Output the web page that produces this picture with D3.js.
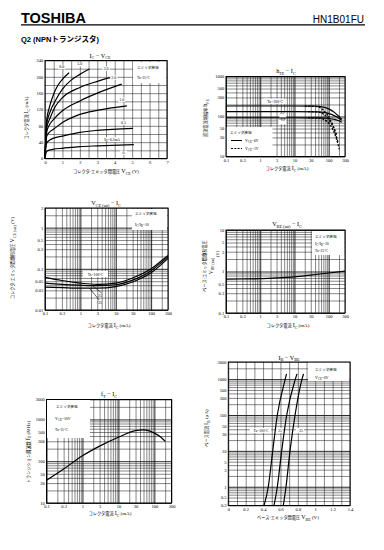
<!DOCTYPE html>
<html><head><meta charset="utf-8">
<script src="https://cdn.jsdelivr.net/npm/d3@7"></script>
<style>body{margin:0;background:#fff}svg{display:block}</style>
</head><body><script>
// ---------------- DATA ----------------
const logXTicks = [0.1, 0.3, 1, 3, 10, 30, 100, 300];

// IC - VCE  (VCE V, IC mA)
const vceTicks = [0, 1, 2, 3, 4, 5, 6, 7];
const icTicks = [0, 40, 80, 120, 160, 200, 240];
const ibNames = ["8.0", "5.0", "3.0", "2.0", "1.0", "0.5", "IB=0.2mA", "0"];
const ib80 = [[0,0],[0.05,60],[0.1,95],[0.25,125],[0.5,158],[0.75,180],[1,194],[1.38,210]];
const ib50 = [[0,0],[0.05,55],[0.1,85],[0.3,115],[0.6,142],[1,170],[1.5,192],[2,206],[2.55,219]];
const ib30 = [[0,0],[0.05,50],[0.1,75],[0.3,100],[0.6,128],[1,149],[2,174],[3,189],[3.74,198]];
const ib20 = [[0,0],[0.05,45],[0.1,65],[0.25,82],[0.5,96],[1,117],[2,141],[3,160],[4.4,182]];
const ib10 = [[0,0],[0.05,40],[0.1,55],[0.25,64],[0.5,72],[1,88],[2,108],[3,118],[4.7,129]];
const ib05 = [[0,0],[0.05,28],[0.1,38],[0.3,46],[0.5,50],[1,55],[2,64],[3,69],[5.05,74]];
const ib02 = [[0,0],[0.05,12],[0.1,18],[0.3,21],[0.5,23],[1,25],[2,29],[3,31],[5.1,34]];
const ibLabelPos = [[0.96,221],[2.0,228],[3.5,217],[3.95,195],[4.4,141],[4.5,85],[3.85,43],[4.5,11]];

// hFE - IC
const hfeTicks = [10, 30, 50, 100, 300, 500, 1000];
const hfe100 = [[0.1,183],[10,183],[40,182],[70,172],[100,155],[150,125],[200,100],[240,85]];
const hfe25 = [[0.1,132],[10,132],[50,131],[80,125],[120,113],[170,98],[240,80]];
const hfeM25 = [[0.1,93],[10,93],[60,92],[100,89],[150,84],[200,78],[240,72]];
const hfe100d = [[20,183],[40,180],[60,160],[85,120],[110,85],[140,55],[170,35]];
const hfe25d = [[25,132],[45,130],[70,115],[100,85],[130,58],[160,36],[190,22]];
const hfeM25d = [[25,93],[50,91],[80,80],[110,62],[140,42],[170,27],[205,15]];

// VCE(sat) - IC
const vcesatTicks = [0.01, 0.03, 0.05, 0.1, 0.3, 0.5, 1, 3];
const vcesat100 = [[0.1,0.062],[0.3,0.052],[1,0.045],[3,0.042],[10,0.045],[30,0.06],[100,0.1],[200,0.16],[300,0.21]];
const vcesat25 = [[0.1,0.045],[0.3,0.042],[1,0.040],[3,0.039],[10,0.041],[30,0.053],[100,0.09],[200,0.145],[300,0.195]];
const vcesatM25 = [[0.1,0.036],[0.3,0.035],[1,0.034],[3,0.034],[10,0.037],[30,0.048],[100,0.08],[200,0.13],[300,0.18]];

// VBE(sat) - IC
const vbesatTicks = [0.1, 0.3, 0.5, 1, 3, 5, 10];
const vbesat25 = [[0.1,0.65],[0.3,0.66],[1,0.67],[3,0.7],[10,0.74],[30,0.82],[100,0.92],[300,1.02]];

// fT - IC
const ftTicks = [10, 30, 50, 100, 300, 500, 1000, 3000];
const ft25 = [[0.1,35],[0.3,65],[1,135],[3,230],[10,375],[30,540],[50,560],[100,470],[150,380],[200,300]];

// IB - VBE
const vbeTicks = [0, 0.2, 0.4, 0.6, 0.8, 1.0, 1.2, 1.4];
const ibTicks = [0.3, 0.5, 1, 3, 5, 10, 30, 50, 100, 300, 500, 1000, 3000];
const ibv100 = [[0.411,0.3],[0.46,1],[0.511,10],[0.564,100],[0.652,940],[0.67,1400]];
const ibv25 = [[0.526,0.3],[0.564,1],[0.614,10],[0.672,100],[0.768,940],[0.79,1400]];
const ibvM25 = [[0.633,0.3],[0.664,1],[0.71,10],[0.768,100],[0.845,940],[0.865,1400]];

// ---------------- DRAW ----------------
const SER = "'Liberation Serif','DejaVu Serif','Noto Sans CJK JP',serif";
const svg = d3.select("body").append("svg").attr("width", 384).attr("height", 550);
svg.append("rect").attr("width",384).attr("height",550).attr("fill","#fff");

function rtext(p, x, y, segs, o = {}) {
  const t = p.append("text")
    .attr("transform", `translate(${x},${y}) rotate(${o.rot || 0})`)
    .attr("text-anchor", o.anchor || "middle")
    .attr("font-family", o.family || SER).attr("fill", "#000");
  let shift = 0;
  segs.forEach(s => {
    const [str, size, sub] = typeof s === "string" ? [s, 4.2, false] : s;
    const target = sub ? size * 0.45 : 0;
    const ts = t.append("tspan").text(str).attr("font-size", size);
    if (target !== shift) { ts.attr("dy", target - shift); shift = target; }
  });
  return t;
}

function logGrid(lo, hi) {
  const out = [];
  for (let e = Math.floor(Math.log10(lo)) - 1; e <= Math.ceil(Math.log10(hi)); e++)
    for (let k = 1; k <= 9; k++) {
      const v = +(k * Math.pow(10, e)).toPrecision(3);
      if (v >= lo * 0.999 && v <= hi * 1.001) out.push(v);
    }
  return out;
}
const isDecade = d => Math.abs(Math.log10(d) - Math.round(Math.log10(d))) < 1e-6;

function panel(c) {
  const g = svg.append("g");
  const h = c.b - c.t, w = c.r - c.l;
  const x = c.x.range([c.l, c.r]), y = c.y.range([c.b, c.t]);
  const gx = g.append("g").attr("transform", `translate(0,${c.b})`)
    .call(d3.axisBottom(x).tickValues(c.xg).tickSize(-h).tickFormat(""));
  gx.select(".domain").remove();
  gx.selectAll("line").attr("stroke", "#111").attr("stroke-width", d => c.xMaj(d) ? 0.9 : 0.5);
  const gy = g.append("g").attr("transform", `translate(${c.l},0)`)
    .call(d3.axisLeft(y).tickValues(c.yg).tickSize(-w).tickFormat(""));
  gy.select(".domain").remove();
  gy.selectAll("line").attr("stroke", "#111").attr("stroke-width", d => c.yMaj(d) ? 0.9 : 0.5);
  const ax = g.append("g").attr("transform", `translate(0,${c.b})`)
    .call(d3.axisBottom(x).tickValues(c.xt).tickSize(0).tickPadding(2.2).tickFormat(d => String(d)));
  ax.select(".domain").remove();
  ax.selectAll("text").attr("font-family", SER).attr("font-size", 4.5).attr("fill", "#000");
  const ay = g.append("g").attr("transform", `translate(${c.l},0)`)
    .call(d3.axisLeft(y).tickValues(c.yt).tickSize(0).tickPadding(1.8).tickFormat(d => String(d)));
  ay.select(".domain").remove();
  ay.selectAll("text").attr("font-family", SER).attr("font-size", 4.5).attr("fill", "#000");
  const data = g.append("g");
  g.append("rect").attr("x", c.l).attr("y", c.t).attr("width", w).attr("height", h)
    .attr("fill", "none").attr("stroke", "#000").attr("stroke-width", 1);
  const line = d3.line().x(d => x(d[0])).y(d => y(d[1])).curve(d3.curveMonotoneX);
  return { g, data, x, y, line };
}
function curve(P, pts, dash) {
  P.data.append("path").attr("d", P.line(pts)).attr("fill", "none").attr("stroke", "#000")
    .attr("stroke-width", 1.2).attr("stroke-dasharray", dash || null);
}
function box(P, x, y, w, h) {
  P.data.append("rect").attr("x", x).attr("y", y).attr("width", w).attr("height", h).attr("fill", "#fff");
}

// Header
svg.append("text").attr("x", 21).attr("y", 23).attr("font-family", "'Liberation Sans',Arial,sans-serif")
  .attr("font-weight", "bold").attr("font-size", 14.5).attr("fill", "#000").text("TOSHIBA");
svg.append("text").attr("x", 364).attr("y", 22.5).attr("text-anchor", "end")
  .attr("font-family", "'Liberation Sans',Arial,sans-serif").attr("font-size", 10).attr("fill", "#000").text("HN1B01FU");
svg.append("line").attr("x1", 21).attr("x2", 365).attr("y1", 24.8).attr("y2", 24.8).attr("stroke", "#000").attr("stroke-width", 1.2);
svg.append("text").attr("x", 21).attr("y", 42).attr("font-family", "'Liberation Sans','Noto Sans CJK JP',sans-serif")
  .attr("font-weight", "bold").attr("font-size", 7.5).attr("fill", "#000").text("Q2 (NPNトランジスタ)");

const LG = 3.6; // legend font

// ---- Chart 1: IC - VCE
{
  const P = panel({ l: 45, r: 167, t: 60.5, b: 158.5,
    x: d3.scaleLinear().domain([0, 7]), y: d3.scaleLinear().domain([0, 240]),
    xg: d3.range(0, 7.01, 0.5), yg: d3.range(0, 241, 20), xt: vceTicks, yt: icTicks,
    xMaj: () => false, yMaj: () => false });
  [ib80, ib50, ib30, ib20, ib10, ib05, ib02].forEach(s => curve(P, s));
  ibNames.forEach((n, i) => {
    const [vx, vy] = ibLabelPos[i];
    if (n.startsWith("IB")) {
      box(P, P.x(vx) - 9, P.y(vy) - 3.5, 18, 4.6);
      rtext(P.data, P.x(vx), P.y(vy), [["I", 4], ["B", 3, true], ["=0.2mA", 3.8]]);
    } else {
      box(P, P.x(vx) - 3.5, P.y(vy) - 3.4, 7, 4.4);
      rtext(P.data, P.x(vx), P.y(vy), [[n, 4]]);
    }
  });
  box(P, 133, 62, 33, 21);
  rtext(P.data, 137, 68.5, [["エミッタ接地", LG]], { anchor: "start" });
  rtext(P.data, 137, 79, [["Ta=25°C", LG]], { anchor: "start" });
  rtext(svg, 100, 57.5, [["I", 6.2], ["C", 4.2, true], [" − V", 6.2], ["CE", 4.2, true]]);
  rtext(svg, 106, 173, [["コレクタ-エミッタ間電圧  ", 4.2], ["V", 6], ["CE", 4, true], ["  (V)", 5]]);
  rtext(svg, 28, 118, [["コレクタ電流  ", 4.2], ["I", 6], ["C", 4, true], ["  (mA)", 5]], { rot: -90 });
}

// ---- Chart 2: hFE - IC
{
  const P = panel({ l: 226, r: 345, t: 76.5, b: 156.5,
    x: d3.scaleLog().domain([0.1, 300]), y: d3.scaleLog().domain([10, 1000]),
    xg: logGrid(0.1, 300), yg: logGrid(10, 1000), xt: logXTicks, yt: hfeTicks,
    xMaj: isDecade, yMaj: isDecade });
  [hfe100, hfe25, hfeM25].forEach(s => curve(P, s));
  [hfe100d, hfe25d, hfeM25d].forEach(s => curve(P, s, "2.2,1.3"));
  box(P, P.x(1.3), P.y(280), 22, 5.5);
  rtext(P.data, P.x(1.3) + 11, P.y(280) + 4.2, [["Ta=100°C", 3.8]]);
  box(P, P.x(3.6), P.y(124), 7, 4.6);
  rtext(P.data, P.x(4.3), P.y(114), [["25", 3.8]]);
  box(P, P.x(3.4), P.y(83), 8, 4.6);
  rtext(P.data, P.x(4.3), P.y(77), [["−25", 3.8]]);
  box(P, 226.5, 127, 46, 29);
  rtext(P.data, 230, 134, [["エミッタ接地", LG]], { anchor: "start" });
  P.data.append("line").attr("x1", 231).attr("x2", 242).attr("y1", 140.5).attr("y2", 140.5).attr("stroke", "#000").attr("stroke-width", 1);
  P.data.append("line").attr("x1", 231).attr("x2", 242).attr("y1", 148.5).attr("y2", 148.5).attr("stroke", "#000").attr("stroke-width", 1).attr("stroke-dasharray", "2,1.3");
  rtext(P.data, 245, 142, [["V", 4], ["CE", 3, true], ["=6V", 3.8]], { anchor: "start" });
  rtext(P.data, 245, 150, [["V", 4], ["CE", 3, true], ["=1V", 3.8]], { anchor: "start" });
  rtext(svg, 286, 73, [["h", 6.2], ["FE", 4.2, true], [" − I", 6.2], ["C", 4.2, true]]);
  rtext(svg, 287, 170, [["コレクタ電流  ", 4.2], ["I", 6], ["C", 4, true], ["  (mA)", 5]]);
  rtext(svg, 207, 118, [["直流電流増幅率  ", 4.2], ["h", 6], ["FE", 4, true]], { rot: -90 });
}

// ---- Chart 3: VCE(sat) - IC
{
  const P = panel({ l: 45, r: 168, t: 208, b: 310,
    x: d3.scaleLog().domain([0.1, 300]), y: d3.scaleLog().domain([0.01, 3]),
    xg: logGrid(0.1, 300), yg: logGrid(0.01, 3), xt: logXTicks, yt: vcesatTicks,
    xMaj: isDecade, yMaj: isDecade });
  [vcesat100, vcesat25, vcesatM25].forEach(s => curve(P, s));
  box(P, 83, 271, 25, 6);
  rtext(P.data, 95.5, 276, [["Ta=100°C", 3.8]]);
  P.data.append("line").attr("x1", P.x(2.2)).attr("y1", P.y(0.039)).attr("x2", P.x(4)).attr("y2", 293)
    .attr("stroke", "#000").attr("stroke-width", 0.6);
  P.data.append("line").attr("x1", P.x(1.8)).attr("y1", P.y(0.034)).attr("x2", P.x(3.4)).attr("y2", 300)
    .attr("stroke", "#000").attr("stroke-width", 0.6);
  rtext(P.data, 100, 297, [["25", 3.8]]);
  rtext(P.data, 99, 303.5, [["−25", 3.8]]);
  box(P, 132, 209, 35, 21);
  rtext(P.data, 135, 215, [["エミッタ接地", LG]], { anchor: "start" });
  rtext(P.data, 135, 226, [["I", 4], ["C", 3, true], ["/I", 4], ["B", 3, true], ["=10", 3.8]], { anchor: "start" });
  rtext(svg, 106, 205, [["V", 6.2], ["CE (sat)", 4.2, true], [" − I", 6.2], ["C", 4.2, true]]);
  rtext(svg, 109, 327, [["コレクタ電流  ", 4.2], ["I", 6], ["C", 4, true], ["  (mA)", 5]]);
  rtext(svg, 14, 258, [["コレクタ-エミッタ間飽和電圧  ", 4.2], ["V", 6], ["CE (sat)", 4, true], ["  (V)", 5]], { rot: -90 });
}

// ---- Chart 4: VBE(sat) - IC
{
  const P = panel({ l: 226, r: 345, t: 230, b: 313,
    x: d3.scaleLog().domain([0.1, 300]), y: d3.scaleLog().domain([0.1, 10]),
    xg: logGrid(0.1, 300), yg: logGrid(0.1, 10), xt: logXTicks, yt: vbesatTicks,
    xMaj: isDecade, yMaj: isDecade });
  curve(P, vbesat25);
  box(P, 312, 231, 32.5, 24);
  rtext(P.data, 315, 238, [["エミッタ接地", LG]], { anchor: "start" });
  rtext(P.data, 315, 245, [["I", 4], ["C", 3, true], ["/I", 4], ["B", 3, true], ["=10", 3.8]], { anchor: "start" });
  rtext(P.data, 315, 252, [["Ta=25°C", LG]], { anchor: "start" });
  rtext(svg, 287, 226, [["V", 6.2], ["BE (sat)", 4.2, true], [" − I", 6.2], ["C", 4.2, true]]);
  rtext(svg, 288, 327, [["コレクタ電流  ", 4.2], ["I", 6], ["C", 4, true], ["  (mA)", 5]]);
  rtext(svg, 206, 266, [["ベース-エミッタ間飽和電圧", 4.2]], { rot: -90 });
  rtext(svg, 212.5, 266, [["V", 5.6], ["BE (sat)", 3.8, true]], { rot: -90 });
  rtext(svg, 218.5, 254, [["(V)", 4.6]], { rot: -90 });
}

// ---- Chart 5: fT - IC
{
  const P = panel({ l: 46.5, r: 171.5, t: 399.5, b: 503,
    x: d3.scaleLog().domain([0.1, 300]), y: d3.scaleLog().domain([10, 3000]),
    xg: logGrid(0.1, 300), yg: logGrid(10, 3000), xt: logXTicks, yt: ftTicks,
    xMaj: isDecade, yMaj: isDecade });
  curve(P, ft25);
  box(P, 47, 400, 43, 38);
  rtext(P.data, 56, 408, [["エミッタ接地", LG]], { anchor: "start" });
  rtext(P.data, 55, 420, [["V", 4], ["CE", 3, true], ["=10V", 3.8]], { anchor: "start" });
  rtext(P.data, 55, 431, [["Ta=25°C", LG]], { anchor: "start" });
  rtext(svg, 109, 396, [["f", 6.2], ["T", 4.2, true], [" − I", 6.2], ["C", 4.2, true]]);
  rtext(svg, 110, 515, [["コレクタ電流  ", 4.2], ["I", 6], ["C", 4, true], ["  (mA)", 5]]);
  rtext(svg, 29.5, 452, [["トランジション周波数  ", 4.2], ["f", 6], ["T", 4, true], ["  (MHz)", 5]], { rot: -90 });
}

// ---- Chart 6: IB - VBE
{
  const P = panel({ l: 228.3, r: 350, t: 362, b: 505.5,
    x: d3.scaleLinear().domain([0, 1.4]), y: d3.scaleLog().domain([0.3, 3000]),
    xg: d3.range(0, 1.401, 0.1), yg: logGrid(0.3, 3000), xt: vbeTicks, yt: ibTicks,
    xMaj: () => false, yMaj: isDecade });
  [ibv100, ibv25, ibvM25].forEach(s => curve(P, s));
  box(P, 250, 428, 21, 5);
  rtext(P.data, 261, 432, [["Ta=100°C", 3.6]]);
  box(P, 276.5, 428, 6, 5);
  rtext(P.data, 280, 432, [["25", 3.6]]);
  box(P, 296, 428, 8, 5);
  rtext(P.data, 300, 432, [["−25", 3.6]]);
  box(P, 308, 362.5, 41.5, 18.5);
  rtext(P.data, 315, 371, [["エミッタ接地", LG]], { anchor: "start" });
  rtext(P.data, 315, 379, [["V", 4], ["CE", 3, true], ["=6V", 3.8]], { anchor: "start" });
  rtext(svg, 289, 359.5, [["I", 6.2], ["B", 4.2, true], [" − V", 6.2], ["BE", 4.2, true]]);
  rtext(svg, 288, 519, [["ベース-エミッタ間電圧  ", 4.2], ["V", 6], ["BE", 4, true], ["  (V)", 5]]);
  rtext(svg, 208, 428, [["ベース電流  ", 4.2], ["I", 6], ["B", 4, true], ["  (μA)", 5]], { rot: -90 });
}
</script></body></html>
